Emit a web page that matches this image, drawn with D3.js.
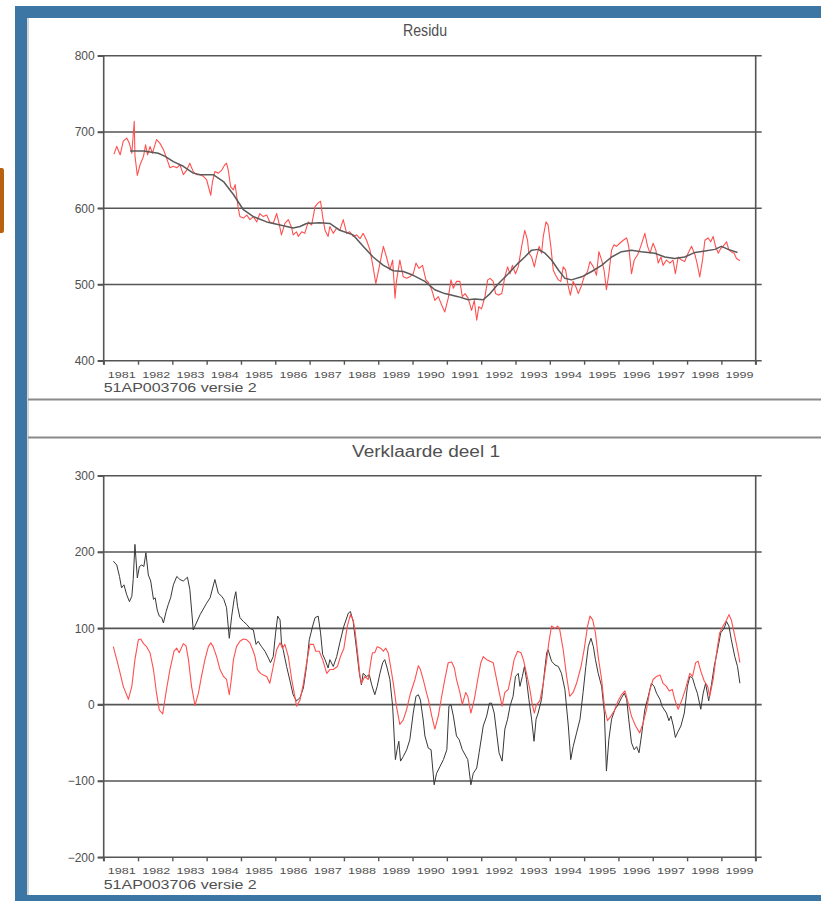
<!DOCTYPE html>
<html>
<head>
<meta charset="utf-8">
<script src="https://cdn.jsdelivr.net/npm/d3@7"></script>
<style>
  body { margin: 0; background: #fff; }
  text { font-family: "Liberation Sans", Arial, sans-serif; fill: #505050; }
</style>
</head>
<body>
<svg id="chart" width="821" height="901"></svg>
<script>
// values as [decimal year, value]
const residuRaw = [
  [1981.30,671],[1981.38,681],[1981.48,670],[1981.57,688],[1981.67,692],[1981.75,685],[1981.82,672],
  [1981.89,714],[1981.91,669],[1981.98,643],[1982.06,657],[1982.16,668],[1982.22,683],[1982.28,670],
  [1982.35,681],[1982.42,672],[1982.48,681],[1982.54,690],[1982.64,685],[1982.74,677],[1982.83,666],
  [1982.93,653],[1983.03,655],[1983.13,653],[1983.22,657],[1983.32,644],[1983.42,650],[1983.51,659],
  [1983.61,648],[1983.71,644],[1983.81,644],[1983.90,642],[1984.00,637],[1984.12,617],[1984.17,635],
  [1984.24,648],[1984.34,646],[1984.44,650],[1984.53,657],[1984.58,659],[1984.63,650],[1984.70,628],
  [1984.78,624],[1984.83,631],[1984.87,618],[1984.92,600],[1984.97,589],[1985.07,587],[1985.17,591],
  [1985.26,585],[1985.36,589],[1985.46,582],[1985.55,593],[1985.65,589],[1985.75,591],[1985.84,582],
  [1985.94,580],[1986.04,593],[1986.11,580],[1986.18,565],[1986.28,580],[1986.38,585],[1986.48,574],
  [1986.52,565],[1986.62,569],[1986.67,563],[1986.77,569],[1986.86,567],[1986.96,582],[1987.06,578],
  [1987.16,602],[1987.25,607],[1987.32,609],[1987.38,589],[1987.45,571],[1987.54,563],[1987.59,576],
  [1987.69,567],[1987.79,574],[1987.88,571],[1987.98,585],[1988.08,567],[1988.17,569],[1988.27,563],
  [1988.37,565],[1988.47,560],[1988.56,567],[1988.66,558],[1988.76,545],[1988.85,523],[1988.93,501],
  [1989.03,523],[1989.15,550],[1989.24,536],[1989.34,519],[1989.42,532],[1989.49,482],[1989.53,504],
  [1989.63,532],[1989.73,510],[1989.83,508],[1989.92,510],[1990.02,514],[1990.10,528],[1990.19,521],
  [1990.29,525],[1990.39,506],[1990.46,503],[1990.56,493],[1990.65,479],[1990.75,484],[1990.85,473],
  [1990.94,464],[1991.04,482],[1991.12,506],[1991.19,495],[1991.28,504],[1991.38,504],[1991.45,484],
  [1991.53,488],[1991.62,482],[1991.72,466],[1991.80,479],[1991.87,453],[1991.93,471],[1992.01,468],
  [1992.11,484],[1992.19,506],[1992.26,508],[1992.35,504],[1992.42,488],[1992.50,486],[1992.60,488],
  [1992.69,510],[1992.77,523],[1992.84,514],[1992.91,525],[1993.00,514],[1993.08,523],[1993.18,550],
  [1993.27,571],[1993.35,558],[1993.39,541],[1993.47,536],[1993.55,523],[1993.61,536],[1993.69,550],
  [1993.76,541],[1993.81,563],[1993.89,582],[1993.95,578],[1994.03,550],[1994.10,519],[1994.17,512],
  [1994.25,506],[1994.32,504],[1994.39,523],[1994.46,519],[1994.54,497],[1994.60,486],[1994.68,504],
  [1994.76,497],[1994.83,488],[1994.91,497],[1995.00,510],[1995.10,517],[1995.17,530],[1995.27,523],
  [1995.36,512],[1995.43,543],[1995.51,532],[1995.58,519],[1995.65,493],[1995.72,514],[1995.80,545],
  [1995.87,552],[1995.94,550],[1996.04,554],[1996.14,558],[1996.24,561],[1996.30,550],[1996.38,514],
  [1996.46,532],[1996.56,539],[1996.65,550],[1996.77,567],[1996.85,550],[1996.92,541],[1997.01,554],
  [1997.09,545],[1997.16,528],[1997.24,536],[1997.30,525],[1997.40,532],[1997.50,528],[1997.59,532],
  [1997.66,514],[1997.74,536],[1997.84,532],[1997.93,530],[1998.03,541],[1998.13,550],[1998.23,539],
  [1998.29,528],[1998.37,510],[1998.45,532],[1998.52,558],[1998.61,561],[1998.69,556],[1998.76,563],
  [1998.83,550],[1998.91,541],[1998.98,547],[1999.05,550],[1999.15,556],[1999.22,545],[1999.29,543],
  [1999.37,541],[1999.44,534],[1999.54,531]
];

const residuTrend = [
  [1981.77,675],[1982.16,675],[1982.59,672],[1982.79,668],[1983.03,661],[1983.32,655],[1983.61,646],
  [1983.81,644],[1984.19,644],[1984.49,635],[1984.78,618],[1985.07,598],[1985.36,589],[1985.75,582],
  [1986.14,578],[1986.52,574],[1986.72,576],[1986.91,580],[1987.30,581],[1987.59,580],[1987.88,571],
  [1988.27,565],[1988.56,550],[1988.85,536],[1989.15,525],[1989.44,518],[1989.73,517],[1990.02,512],
  [1990.36,504],[1990.65,493],[1990.94,488],[1991.33,484],[1991.62,480],[1991.82,481],[1992.06,480],
  [1992.26,488],[1992.50,501],[1992.79,514],[1993.08,528],[1993.27,536],[1993.47,545],[1993.66,546],
  [1993.86,541],[1994.05,532],[1994.25,519],[1994.44,508],[1994.63,506],[1994.93,510],[1995.22,517],
  [1995.51,525],[1995.80,536],[1996.09,543],[1996.38,545],[1996.67,543],[1997.06,541],[1997.35,536],
  [1997.64,534],[1997.93,536],[1998.23,542],[1998.52,544],[1998.81,546],[1999.00,550],[1999.20,546],
  [1999.47,542]
];

const deelBlack = [
  [1981.28,188],[1981.38,183],[1981.46,168],[1981.52,153],[1981.59,157],[1981.67,144],[1981.75,135],
  [1981.82,142],[1981.86,164],[1981.91,210],[1981.98,166],[1982.04,181],[1982.11,183],[1982.17,181],
  [1982.23,199],[1982.30,170],[1982.37,162],[1982.45,138],[1982.50,140],[1982.56,124],[1982.62,116],
  [1982.69,114],[1982.74,107],[1982.82,122],[1982.88,131],[1982.95,140],[1983.03,157],[1983.13,168],
  [1983.22,164],[1983.32,162],[1983.44,167],[1983.51,151],[1983.61,98],[1983.81,118],[1984.00,133],
  [1984.10,140],[1984.24,164],[1984.34,146],[1984.44,142],[1984.50,138],[1984.58,127],[1984.66,87],
  [1984.73,116],[1984.80,138],[1984.85,148],[1984.90,129],[1984.97,114],[1985.07,109],[1985.17,105],
  [1985.26,100],[1985.36,98],[1985.44,79],[1985.50,83],[1985.60,76],[1985.70,70],[1985.80,61],
  [1985.86,55],[1985.94,63],[1986.01,94],[1986.07,116],[1986.14,111],[1986.18,81],[1986.23,72],
  [1986.33,50],[1986.43,31],[1986.52,13],[1986.62,5],[1986.72,9],[1986.82,22],[1986.91,50],
  [1986.99,85],[1987.09,103],[1987.16,114],[1987.25,116],[1987.32,94],[1987.38,66],[1987.45,59],
  [1987.54,48],[1987.59,59],[1987.69,50],[1987.79,63],[1987.88,81],[1988.00,103],[1988.13,120],
  [1988.19,122],[1988.27,109],[1988.37,72],[1988.45,41],[1988.51,26],[1988.56,41],[1988.66,37],
  [1988.74,39],[1988.81,26],[1988.90,13],[1988.97,24],[1989.05,41],[1989.13,55],[1989.19,59],
  [1989.26,48],[1989.34,33],[1989.42,-2],[1989.46,-37],[1989.50,-72],[1989.55,-59],[1989.60,-48],
  [1989.65,-74],[1989.73,-68],[1989.83,-59],[1989.92,-46],[1990.02,-11],[1990.10,11],[1990.17,13],
  [1990.23,6],[1990.31,-20],[1990.36,-41],[1990.46,-57],[1990.54,-59],[1990.63,-105],[1990.70,-90],
  [1990.80,-81],[1990.90,-72],[1991.00,-59],[1991.06,-2],[1991.12,0],[1991.19,-15],[1991.28,-41],
  [1991.36,-46],[1991.45,-59],[1991.61,-72],[1991.70,-105],[1991.77,-90],[1991.87,-83],[1991.94,-63],
  [1992.06,-28],[1992.16,-15],[1992.24,2],[1992.30,2],[1992.38,-11],[1992.45,-37],[1992.52,-63],
  [1992.61,-74],[1992.69,-32],[1992.77,-19],[1992.84,-2],[1992.93,11],[1993.00,37],[1993.08,41],
  [1993.13,24],[1993.20,37],[1993.26,50],[1993.32,33],[1993.39,7],[1993.47,-19],[1993.54,-48],
  [1993.60,-19],[1993.66,-11],[1993.76,7],[1993.84,41],[1993.91,68],[1993.95,72],[1994.05,57],
  [1994.15,52],[1994.25,50],[1994.34,41],[1994.44,20],[1994.54,-28],[1994.61,-72],[1994.68,-55],
  [1994.78,-37],[1994.88,-19],[1994.97,16],[1995.05,50],[1995.12,76],[1995.20,87],[1995.27,76],
  [1995.33,59],[1995.41,41],[1995.51,24],[1995.59,-11],[1995.65,-87],[1995.72,-46],[1995.80,-19],
  [1995.90,-6],[1995.99,0],[1996.09,9],[1996.17,15],[1996.24,7],[1996.30,-19],[1996.38,-50],
  [1996.46,-59],[1996.53,-55],[1996.60,-63],[1996.67,-41],[1996.77,-6],[1996.87,11],[1996.96,28],
  [1997.04,24],[1997.11,15],[1997.21,7],[1997.27,-2],[1997.40,-11],[1997.47,-21],[1997.53,-15],
  [1997.60,-28],[1997.66,-43],[1997.74,-35],[1997.82,-28],[1997.92,-11],[1998.01,24],[1998.08,37],
  [1998.16,35],[1998.23,24],[1998.30,15],[1998.40,-6],[1998.47,15],[1998.54,28],[1998.63,5],
  [1998.71,26],[1998.79,50],[1998.89,72],[1998.98,94],[1999.08,100],[1999.15,109],[1999.22,103],
  [1999.29,85],[1999.39,63],[1999.47,50],[1999.54,28]
];

const deelRed = [
  [1981.28,76],[1981.38,59],[1981.48,41],[1981.57,24],[1981.72,7],[1981.82,24],[1981.91,59],
  [1982.01,85],[1982.08,86],[1982.16,80],[1982.25,76],[1982.35,68],[1982.45,46],[1982.54,15],
  [1982.62,-7],[1982.72,-12],[1982.83,20],[1982.93,46],[1983.05,70],[1983.13,74],[1983.20,68],
  [1983.32,80],[1983.40,77],[1983.47,59],[1983.56,24],[1983.66,-1],[1983.76,15],[1983.85,37],
  [1983.95,59],[1984.05,76],[1984.12,81],[1984.19,76],[1984.29,63],[1984.39,46],[1984.49,37],
  [1984.58,33],[1984.66,13],[1984.73,37],[1984.78,59],[1984.87,76],[1984.97,83],[1985.07,86],
  [1985.17,85],[1985.26,81],[1985.36,70],[1985.41,63],[1985.48,46],[1985.57,41],[1985.65,39],
  [1985.75,37],[1985.84,28],[1985.94,50],[1986.04,72],[1986.14,81],[1986.21,74],[1986.28,79],
  [1986.38,63],[1986.48,33],[1986.62,-2],[1986.72,6],[1986.82,28],[1986.91,54],[1987.01,79],
  [1987.11,79],[1987.18,70],[1987.28,70],[1987.38,59],[1987.50,41],[1987.59,46],[1987.69,46],
  [1987.81,50],[1987.90,63],[1988.00,74],[1988.10,103],[1988.19,118],[1988.27,111],[1988.32,98],
  [1988.39,72],[1988.47,37],[1988.51,28],[1988.61,37],[1988.71,33],[1988.78,55],[1988.83,68],
  [1988.90,68],[1988.97,76],[1989.07,74],[1989.15,70],[1989.22,74],[1989.29,68],[1989.36,50],
  [1989.44,28],[1989.53,-2],[1989.63,-26],[1989.73,-20],[1989.83,-6],[1989.94,15],[1990.07,33],
  [1990.17,51],[1990.23,46],[1990.31,33],[1990.41,15],[1990.46,7],[1990.56,-15],[1990.65,-32],
  [1990.75,-15],[1990.85,11],[1990.94,33],[1991.04,55],[1991.14,56],[1991.22,48],[1991.28,33],
  [1991.38,16],[1991.45,0],[1991.55,16],[1991.61,11],[1991.70,-11],[1991.80,7],[1991.90,33],
  [1991.99,55],[1992.06,63],[1992.16,59],[1992.26,57],[1992.35,55],[1992.45,33],[1992.55,11],
  [1992.61,-2],[1992.69,16],[1992.79,20],[1992.87,37],[1992.96,59],[1993.06,70],[1993.16,68],
  [1993.23,59],[1993.32,41],[1993.42,20],[1993.49,0],[1993.55,-11],[1993.61,0],[1993.71,5],
  [1993.81,28],[1993.91,59],[1993.97,81],[1994.05,103],[1994.15,100],[1994.23,103],[1994.29,98],
  [1994.39,72],[1994.49,37],[1994.58,11],[1994.68,16],[1994.78,28],[1994.91,50],[1995.00,72],
  [1995.10,103],[1995.17,116],[1995.25,111],[1995.33,94],[1995.41,63],[1995.51,33],[1995.60,-6],
  [1995.68,-21],[1995.78,-15],[1995.88,-8],[1995.99,5],[1996.09,13],[1996.19,18],[1996.28,3],
  [1996.38,-15],[1996.50,-28],[1996.62,-37],[1996.72,-24],[1996.82,-6],[1996.92,20],[1997.01,33],
  [1997.11,37],[1997.21,39],[1997.30,28],[1997.40,24],[1997.48,18],[1997.57,20],[1997.64,7],
  [1997.74,-6],[1997.84,5],[1997.95,20],[1998.08,41],[1998.16,37],[1998.25,55],[1998.32,57],
  [1998.40,44],[1998.50,31],[1998.60,24],[1998.66,11],[1998.76,33],[1998.86,68],[1998.95,94],
  [1999.05,103],[1999.15,111],[1999.22,118],[1999.29,111],[1999.39,90],[1999.49,68],[1999.54,55]
];

const yearTicks = d3.range(1981, 2001);
const yearLabels = d3.range(1981, 2000);
const residuTicks = [400, 500, 600, 700, 800];
const deelTicks = [-200, -100, 0, 100, 200, 300];
const footnote = "51AP003706 versie 2";

const svg = d3.select("#chart");

// page frame
svg.append("rect").attr("x", 15).attr("y", 6).attr("width", 806).attr("height", 895).attr("fill", "#3b76a5");
svg.append("rect").attr("x", 27).attr("y", 18).attr("width", 794).attr("height", 877).attr("fill", "#fff");
svg.append("line").attr("x1", 28).attr("x2", 28).attr("y1", 18).attr("y2", 895)
  .attr("stroke", "#c8c8c8").attr("stroke-width", 1.5);
svg.append("path").attr("d", "M0,168 H2 Q4,168 4,171 V230 Q4,233 2,233 H0 Z").attr("fill", "#b8620f");

// panel separators
[399.5, 437.5].forEach(function (yy) {
  svg.append("line").attr("x1", 28).attr("x2", 821).attr("y1", yy).attr("y2", yy)
    .attr("stroke", "#8a8a8a").attr("stroke-width", 2);
});

let x = d3.scaleLinear().domain([1981, 2000]).range([103.7, 755.7]);

function drawPanel (cfg) {
  let y = d3.scaleLinear().domain(cfg.domain).range([cfg.bottom, cfg.top]);
  let g = svg.append("g");

  // horizontal grid lines, sticking out a little on both sides
  g.selectAll(".grid")
    .data(cfg.ticks)
    .enter()
    .append("line")
    .attr("x1", x(1981) - 6)
    .attr("x2", x(2000) + 6)
    .attr("y1", function (d) { return y(d) })
    .attr("y2", function (d) { return y(d) })
    .attr("stroke", "#555")
    .attr("stroke-width", 1.6);

  // left axis with labels
  let yAxis = g.append("g")
    .attr("transform", "translate(" + x(1981) + ",0)")
    .call(d3.axisLeft(y).tickValues(cfg.ticks).tickSize(6).tickPadding(3).tickSizeOuter(0));
  yAxis.select(".domain").remove();
  yAxis.selectAll("line").attr("stroke", "#555").attr("stroke-width", 1.6);
  yAxis.selectAll("text")
    .attr("font-size", 12)
    .attr("fill", "#505050")
    .attr("font-family", "Liberation Sans, Arial, sans-serif");

  // frame verticals
  [1981, 2000].forEach(function (yr) {
    g.append("line").attr("x1", x(yr)).attr("x2", x(yr))
      .attr("y1", cfg.top).attr("y2", cfg.bottom + 4)
      .attr("stroke", "#555").attr("stroke-width", 1.6);
  });

  // year ticks
  let xAxis = g.append("g")
    .attr("transform", "translate(0," + cfg.bottom + ")")
    .call(d3.axisBottom(x).tickValues(yearTicks).tickSize(4).tickFormat("").tickSizeOuter(0));
  xAxis.select(".domain").remove();
  xAxis.selectAll("line").attr("stroke", "#555").attr("stroke-width", 1.4);

  // year labels in the middle of each year
  g.selectAll(".yr")
    .data(yearLabels)
    .enter()
    .append("text")
    .attr("x", function (d) { return x(d + 0.5) + 1 })
    .attr("y", cfg.bottom + 16.8)
    .attr("text-anchor", "middle")
    .style("font-size", "9.8px")
    .attr("textLength", 28)
    .attr("lengthAdjust", "spacingAndGlyphs")
    .text(function (d) { return d });

  g.append("text")
    .attr("x", x(1981))
    .attr("y", cfg.bottom + 31.3)
    .style("font-size", "13px")
    .attr("textLength", 153)
    .attr("lengthAdjust", "spacingAndGlyphs")
    .text(footnote);

  g.append("text")
    .attr("x", cfg.titleX)
    .attr("y", cfg.titleY)
    .attr("text-anchor", "middle")
    .style("font-size", "16px")
    .attr("textLength", cfg.titleW)
    .attr("lengthAdjust", "spacingAndGlyphs")
    .text(cfg.title);

  let line = d3.line()
    .x(function (d) { return x(d[0]) })
    .y(function (d) { return y(d[1]) });

  cfg.series.forEach(function (s) {
    g.append("path")
      .datum(s.data)
      .attr("fill", "none")
      .attr("stroke", s.color)
      .attr("stroke-width", s.width)
      .attr("stroke-linejoin", "round")
      .attr("d", line);
  });
}

drawPanel({
  title: "Residu", titleX: 425, titleY: 36, titleW: 44,
  domain: [400, 800], top: 55.7, bottom: 360.7, ticks: residuTicks,
  series: [
    { data: residuRaw, color: "#ff5050", width: 1.1 },
    { data: residuTrend, color: "#5a5a5a", width: 1.5 }
  ]
});

drawPanel({
  title: "Verklaarde deel 1", titleX: 426, titleY: 457, titleW: 148,
  domain: [-200, 300], top: 475.7, bottom: 857.3, ticks: deelTicks,
  series: [
    { data: deelBlack, color: "#383838", width: 1 },
    { data: deelRed, color: "#ff5050", width: 1.1 }
  ]
});
</script>
</body>
</html>
